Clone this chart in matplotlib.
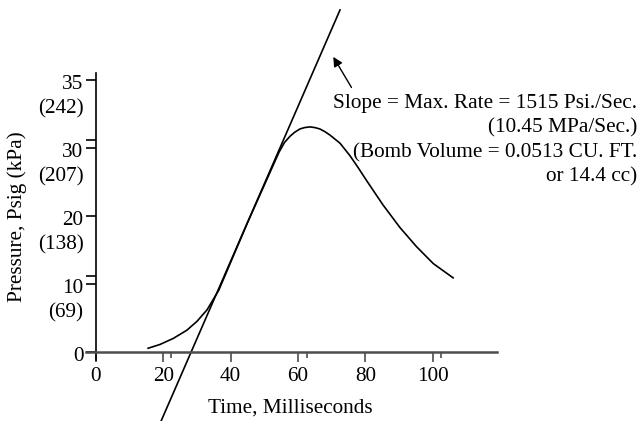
import numpy as np
import matplotlib
matplotlib.use("Agg")
import matplotlib.pyplot as plt
from matplotlib.transforms import ScaledTranslation

plt.rcParams['font.family'] = ['Liberation Serif', 'DejaVu Serif']
FS = 15.3

# pressure trace (ms, psig on the chart's scale)
time_ms = [15.5, 19.0, 23.0, 27.0, 30.0, 33.0, 36.5, 45.0, 54.4, 56.0, 57.6, 59.0,
           60.6, 62.0, 63.6, 65.0, 66.5, 68.0, 69.5, 72.5, 75.4, 77.9, 80.4,
           85.3, 90.3, 95.2, 100.2, 106.1]
pressure = [0.55, 1.1, 2.0, 3.2, 4.5, 6.2, 9.1, 19.0, 29.4, 30.8, 31.7, 32.3,
            32.8, 33.0, 33.1, 33.0, 32.8, 32.4, 31.9, 30.7, 28.9, 27.1, 25.2,
            21.6, 18.3, 15.5, 13.0, 10.9]

# tangent (max. rate) line end points
tangent_t = [19.4, 72.5]
tangent_p = [-10.1, 50.3]

# arrow: tip and tail
arrow_tip = (70.5, 43.4)
arrow_tail = (75.9, 38.9)

x_ticks = [0, 20, 40, 60, 80, 100]
x_minor = [22.3, 62.6, 102.6]
y_ticks = [0, 10, 20, 30, 40]
y_labels = ['0', '10\n(69)', '20\n(138)', '30\n(207)', '35\n(242)']
y_minor = [11.2, 31.2]

note = ("Slope = Max. Rate = 1515 Psi./Sec.\n(10.45 MPa/Sec.)\n"
        "(Bomb Volume = 0.0513 CU. FT.\nor 14.4 cc)")

fig = plt.figure(figsize=(6.42, 4.21), dpi=100)
ax = fig.add_axes([0, 0, 1, 1])
ax.set_xlim(-28.5, 162.2)
ax.set_ylim(-10.15, 51.76)

ax.plot(time_ms, pressure, color='black', lw=1.2)
ax.plot(tangent_t, tangent_p, color='black', lw=1.2)
ax.annotate('', xy=arrow_tip, xytext=arrow_tail,
            arrowprops=dict(arrowstyle='-|>', color='black', lw=1.0,
                            mutation_scale=14, shrinkA=0, shrinkB=0))
ax.text(160.7, 37.9, note, ha='right', va='top', ma='right', fontsize=FS,
        linespacing=1.37)

for s in ['top', 'right']:
    ax.spines[s].set_visible(False)
ax.spines['left'].set_position(('data', 0))
ax.spines['bottom'].set_position(('data', 0))
ax.spines['left'].set_bounds(-1.2, 41.0)
ax.spines['bottom'].set_bounds(-3.0, 119.1)
ax.spines['left'].set_linewidth(1.2)
ax.spines['bottom'].set_linewidth(1.8)
ax.spines['bottom'].set_color('#4d4d4d')

ax.set_xticks(x_ticks)
ax.set_xticks(x_minor, minor=True)
ax.set_yticks(y_ticks)
ax.set_yticklabels(y_labels)
ax.set_yticks(y_minor, minor=True)
ax.tick_params(axis='both', which='major', direction='out', length=7.5,
               width=1.2, labelsize=FS, pad=1.5)
ax.tick_params(axis='x', which='major', pad=3)
ax.tick_params(axis='x', which='minor', direction='out', length=4.5, width=1.2)
ax.tick_params(axis='y', which='minor', direction='out', length=7, width=1.2)
ax.tick_params(axis='x', which='both', color='#4d4d4d')

shift = ScaledTranslation(0, 3.4 / 72, fig.dpi_scale_trans)
for lab in ax.get_yticklabels():
    lab.set_va('top')
    lab.set_linespacing(1.32)
    lab.set_transform(lab.get_transform() + shift)

ax.set_xlabel('Time, Milliseconds', fontsize=FS, va='center')
ax.set_ylabel('Pressure, Psig (kPa)', fontsize=FS, va='center')
ax.xaxis.set_label_coords(290 / 642, 1 - 408 / 421)
ax.yaxis.set_label_coords(17 / 642, 1 - 217 / 421)

fig.savefig('out.png', dpi=100)
